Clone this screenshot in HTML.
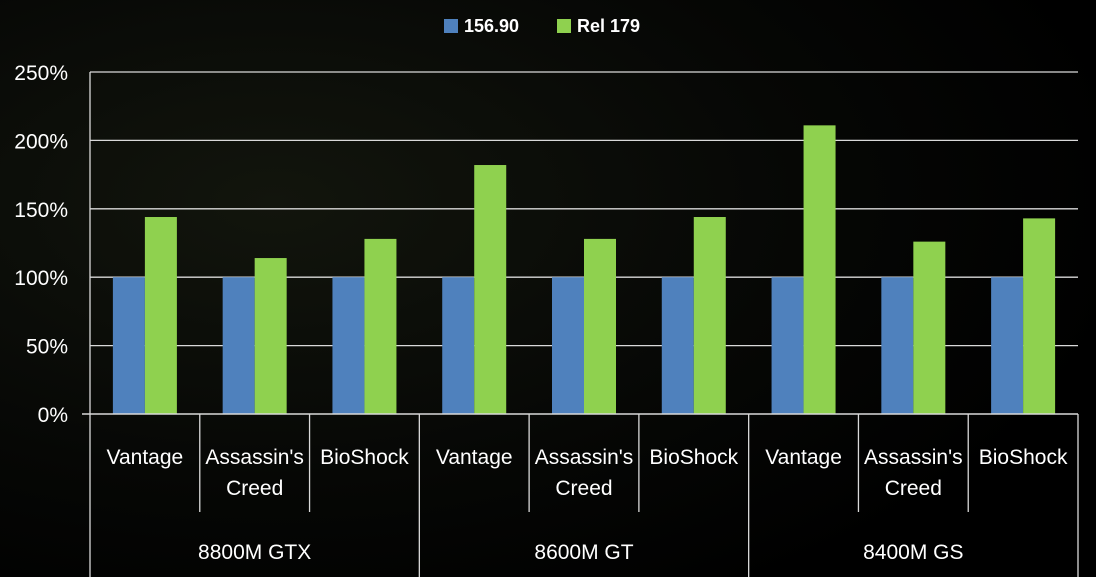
<!DOCTYPE html>
<html><head><meta charset="utf-8"><style>
html,body{margin:0;padding:0;background:#000;}
svg{display:block;font-family:"Liberation Sans",sans-serif;}
</style></head><body>
<svg width="1096" height="577" viewBox="0 0 1096 577">
<defs>
<radialGradient id="bg" cx="0.25" cy="0.35" r="0.8">
<stop offset="0" stop-color="#12150d"/><stop offset="0.6" stop-color="#060705"/><stop offset="1" stop-color="#000"/>
</radialGradient>
</defs>
<rect width="1096" height="577" fill="url(#bg)"/>
<g id="grid"></g><g id="bars"></g><g id="axes"></g>
<g>
<rect x="444" y="19" width="14" height="14" fill="#4f81bd"/>
<text x="464" y="32" fill="#fff" font-size="18" font-weight="bold">156.90</text>
<rect x="557" y="19" width="14" height="14" fill="#8fd14f"/>
<text x="577" y="32" fill="#fff" font-size="18" font-weight="bold">Rel 179</text>
</g>
</svg>
<script>
const groups=["8800M GTX","8600M GT","8400M GS"];
const subs=["Vantage","Assassin's|Creed","BioShock"];
const base=[100,100,100,100,100,100,100,100,100];
const rel=[144,114,128,182,128,144,211,126,143];
const ticks=[0,50,100,150,200,250];
const X0=90,X1=1078,Y0=414,Y250=72;
const ns="http://www.w3.org/2000/svg";
const y=v=>Y0-(v/250)*(Y0-Y250);
const cw=(X1-X0)/base.length;
function mk(t,a,p){const e=document.createElementNS(ns,t);for(const k in a)e.setAttribute(k,a[k]);p.appendChild(e);return e;}
const G=document.getElementById('grid'),B=document.getElementById('bars'),A=document.getElementById('axes');
ticks.forEach(t=>{
 if(t>0){const l=mk('line',{x1:X0,x2:X1,y1:y(t),y2:y(t),stroke:'#d9d9d9','stroke-width':1.3},G);
 
 }
 const tx=mk('text',{x:68,y:y(t)+8,fill:'#fff','font-size':21,'text-anchor':'end'},A);tx.textContent=t+'%';
 
 
});
base.forEach((v,i)=>{
 const c=X0+cw*(i+0.5);
 const b=mk('rect',{x:c-32,y:y(v),width:32,height:Y0-y(v),fill:'#4f81bd'},B);
 
 
 const g=mk('rect',{x:c,y:y(rel[i]),width:32,height:Y0-y(rel[i]),fill:'#8fd14f'},B);
 
 
 const lines=subs[i%3].split('|');
 lines.forEach((s,j)=>{const t=mk('text',{x:c,y:464+j*31,fill:'#fff','font-size':21,'text-anchor':'middle'},A);t.textContent=s;
 
 });
 if(i>0&&i%3!==0){const l=mk('line',{x1:X0+cw*i,x2:X0+cw*i,y1:Y0,y2:512,stroke:'#d9d9d9','stroke-width':1.3},A);
 
 }
});
for(let k=0;k<=3;k++){const x=X0+cw*3*k;const l=mk('line',{x1:x,x2:x,y1:Y0,y2:577,stroke:'#d9d9d9','stroke-width':1.3},A);
 
 }
groups.forEach((g,k)=>{const t=mk('text',{x:X0+cw*(3*k+1.5),y:559,fill:'#fff','font-size':21,'text-anchor':'middle'},A);t.textContent=g;
 
 });
const ax=mk('line',{x1:82,x2:X1,y1:Y0,y2:Y0,stroke:'#d9d9d9','stroke-width':1.5},A);


const ay=mk('line',{x1:X0,x2:X0,y1:Y250,y2:Y0,stroke:'#d9d9d9','stroke-width':1.3},A);


</script>
</body></html>
